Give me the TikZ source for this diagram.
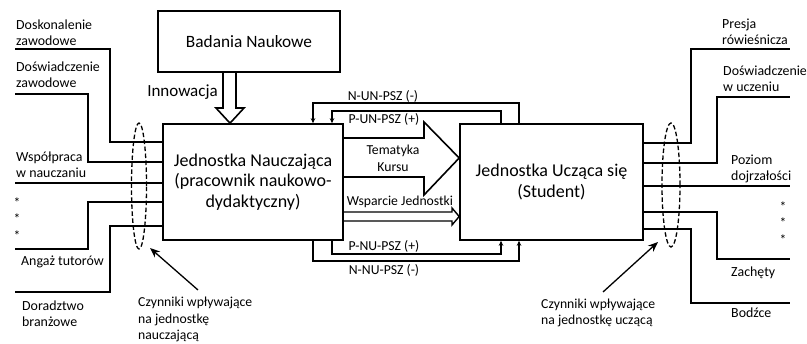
\documentclass[tikz,border=0pt]{standalone}
\usepackage{fontspec}
\setmainfont{Carlito}
\usetikzlibrary{arrows.meta}

\tikzset{
  blok/.style={draw, line width=1.6pt, inner sep=0pt, align=center},
  lab/.style={align=left, anchor=west, inner sep=0pt, font=\fontsize{13.9}{16}\selectfont},
  mid/.style={inner sep=0pt, align=center, font=\fontsize{13.7}{17}\selectfont},
  fb/.style={line width=1.3pt, -{Stealth[length=5pt,width=4.5pt]}},
  wire/.style={line width=1.6pt},
  czyn/.style={line width=1.3pt, dash pattern=on 4.5pt off 2.5pt},
}

\begin{document}
\begin{tikzpicture}[x=1pt,y=-1pt]
  \useasboundingbox (0,0) rectangle (807,344);
  \node [blok, minimum width=182pt, minimum height=61pt, font=\fontsize{17.3}{20}\selectfont] (badania) at (249,41.5) {Badania Naukowe};
  \node [blok, minimum width=180pt, minimum height=116pt, font=\fontsize{18}{20.5}\selectfont] (nauczyciel) at (253,182) {Jednostka Nauczająca\\(pracownik naukowo-\\dydaktyczny)};
  \node [blok, minimum width=183pt, minimum height=116pt, font=\fontsize{18}{21}\selectfont] (student) at (551.5,182) {Jednostka Ucząca się\\(Student)};

  % innowacja
  \draw [wire] (badania.south -| 223,0) -- (223,108) -- (216,108) -- (nauczyciel.north -| 230,0)
    -- (244,108) -- (236,108) -- (badania.south -| 236,0);
  \node [font=\fontsize{17}{20}\selectfont, anchor=east, inner sep=0pt] (innowacja) at (218,92) {Innowacja};

  % czynniki - jednostka nauczajaca
  \foreach \ya/\xb/\yb in {49/110/142, 94/88/162, 183/88/183, 249/88/202, 292/110/226}
    \draw [wire] (15,\ya) -| (\xb,\yb) -- (nauczyciel.west |- 0,\yb);
  \node [lab] (doskonalenie) at (16,33) {Doskonalenie\\zawodowe};
  \node [lab] (doswiadczenieN) at (16,74.5) {Doświadczenie\\zawodowe};
  \node [lab] (wspolpraca) at (16,164.5) {Współpraca\\w nauczaniu};
  \foreach \y [count=\i] in {203,219,236}
    \node [mid] (gwN\i) at (17,\y) {*};
  \node [lab] (angaz) at (21,262) {Angaż tutorów};
  \node [lab] (doradztwo) at (22,314) {Doradztwo\\branżowe};

  % czynniki - jednostka uczaca sie
  \foreach \ya/\xb/\yb in {49/691/143, 97/717/163, 186/717/186, 259/717/212, 303/691/229}
    \draw [wire] (student.east |- 0,\yb) -| (\xb,\ya) -- (790,\ya);
  \node [lab] (presja) at (722,31.5) {Presja\\rówieśnicza};
  \node [lab] (doswiadczenieU) at (723,78.5) {Doświadczenie\\w uczeniu};
  \node [lab] (poziom) at (731,169) {Poziom\\dojrzałości};
  \foreach \y [count=\i] in {207,223,240}
    \node [mid] (gwU\i) at (783,\y) {*};
  \node [lab] (zachety) at (731,273) {Zachęty};
  \node [lab] (bodzce) at (731,313) {Bodźce};

  \draw [czyn] (139,186) ellipse [x radius=7.5pt, y radius=63pt];
  \draw [czyn] (671,185) ellipse [x radius=9pt, y radius=62pt];
  \node [lab, font=\fontsize{13.7}{16.5}\selectfont] (czynnikiN) at (138,319.5) {Czynniki wpływające\\na jednostkę\\nauczającą};
  \node [lab, font=\fontsize{13.7}{16.5}\selectfont] (czynnikiU) at (541,313) {Czynniki wpływające\\na jednostkę uczącą};
  \draw [line width=1.3pt, -{Stealth[length=10pt,width=8pt]}] (198,290) -- (150,248);
  \draw [line width=1.3pt, -{Stealth[length=10pt,width=8pt]}] (603,292) -- (658,242);

  % przeplyw miedzy jednostkami
  \draw [wire] (nauczyciel.east |- 0,138) -- (424,138) -- (424,122) -- (student.west |- 0,158)
    -- (424,195) -- (424,177) -- (nauczyciel.east |- 0,177);
  \node [mid] (tematyka) at (393,158.5) {Tematyka\\Kursu};
  \draw [line width=1.4pt] (nauczyciel.east |- 0,212) -- (452,212) -- (452,208) -- (student.west |- 0,216.5)
    -- (452,225) -- (452,221) -- (nauczyciel.east |- 0,221);
  \node [mid] (wsparcie) at (400,202) {Wsparcie Jednostki};

  % sprzezenia zwrotne
  \draw [fb] (student.north -| 519,0) |- (313,103) -- (nauczyciel.north -| 313,0);
  \draw [fb] (student.north -| 501,0) |- (332,111) -- (nauczyciel.north -| 332,0);
  \draw [fb] (nauczyciel.south -| 332,0) |- (501,254) -- (student.south -| 501,0);
  \draw [fb] (nauczyciel.south -| 313,0) |- (519,261) -- (student.south -| 519,0);
  \node [mid] (nun) at (383,96) {N-UN-PSZ (-)};
  \node [mid] (pun) at (384,119) {P-UN-PSZ (+)};
  \node [mid] (pnu) at (384,246) {P-NU-PSZ (+)};
  \node [mid] (nnu) at (384,270) {N-NU-PSZ (-)};
\end{tikzpicture}
\end{document}
